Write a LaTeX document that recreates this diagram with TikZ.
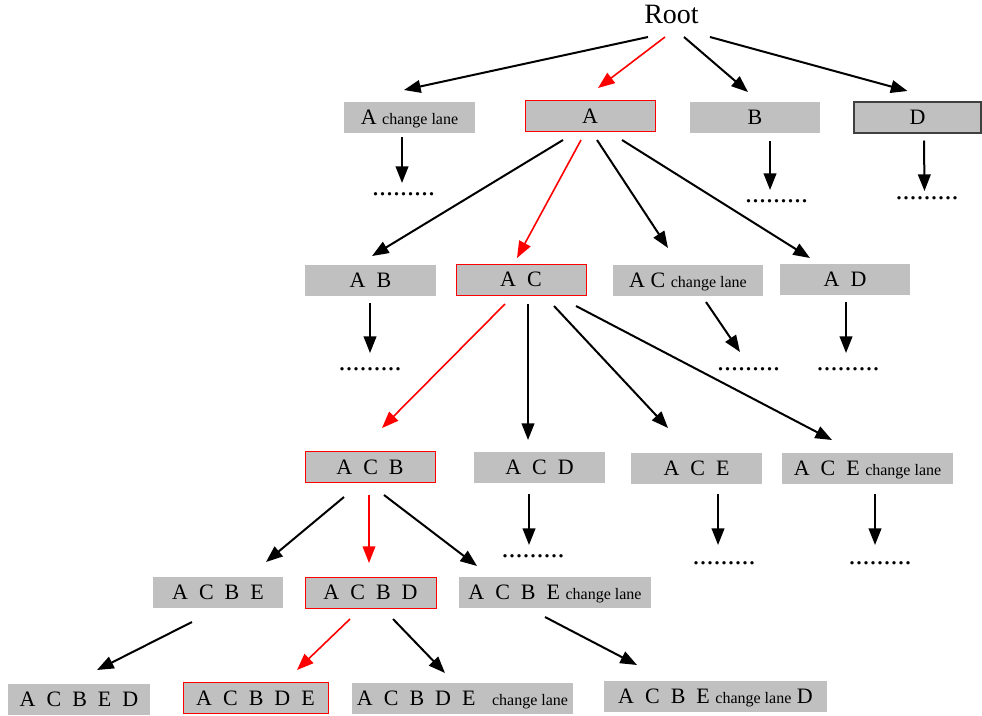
\documentclass[tikz,border=0pt]{standalone}
\usepackage{fontspec}
\setmainfont{Liberation Serif}
\usetikzlibrary{arrows.meta}
\definecolor{boxgray}{HTML}{C0C0C0}
\newcommand{\gp}{\hspace{0.5em}}
\newcommand{\cl}{{\fontsize{12}{12}\selectfont change lane}}
\begin{document}
\begin{tikzpicture}[x=0.75pt,y=-0.75pt,
  box/.style={fill=boxgray,inner sep=0pt,minimum height=23.25pt,minimum width=#1*0.75pt,text height=10.9pt,text depth=0pt,font=\fontsize{16.5}{18}\selectfont},
  hl/.style={draw=red,line width=0.75pt},
  dk/.style={draw=black!75,line width=1pt},
  arr/.style={-{Triangle[length=12.5pt,width=9.5pt]},line width=1.5pt},
  rarr/.style={arr,red,line width=1.2pt},
  dotn/.style={anchor=base,inner sep=0pt,font=\fontsize{21}{21}\selectfont}]
\useasboundingbox (0,0) rectangle (982,715);
% root
\node[inner sep=0pt,font=\fontsize{21}{21}\selectfont] (root) at (671.5,14) {Root};
% row 1
\node[box=131] (Achg) at (409.5,117) {A \cl};
\node[box=130,hl] (A) at (590,116) {A};
\node[box=130] (B) at (755,117.5) {B};
\node[box=127,dk] (D) at (917.5,117.5) {D};
\node[dotn] (d1) at (403.5,195) {.........};
\node[dotn] (d2) at (776.5,202) {.........};
\node[dotn] (d3) at (927,199) {.........};
% row 2
\node[box=131] (AB) at (370.5,280) {A\gp B};
\node[box=130,hl] (AC) at (521,279.5) {A\gp C};
\node[box=150] (ACchg) at (688,280) {A C \cl};
\node[box=130] (AD) at (845,279.5) {A\gp D};
\node[dotn] (d4) at (370,370) {.........};
\node[dotn] (d5) at (748.5,370) {.........};
\node[dotn] (d6) at (848,370) {.........};
% row 3
\node[box=130,hl] (ACB) at (370,467) {A\gp C\gp B};
\node[box=131] (ACD) at (539.5,467.5) {A\gp C\gp D};
\node[box=131] (ACE) at (696.5,468.5) {A\gp C\gp E};
\node[box=171] (ACEchg) at (867.5,468) {A\gp C\gp E \cl};
\node[dotn] (d7) at (533,557) {.........};
\node[dotn] (d8) at (724,564) {.........};
\node[dotn] (d9) at (880,564) {.........};
% row 4
\node[box=130] (ACBE) at (218,592.5) {A\gp C\gp B\gp E};
\node[box=131,hl] (ACBD) at (370.5,592.5) {A\gp C\gp B\gp D};
\node[box=192] (ACBEchg) at (555,592.5) {A\gp C\gp B\gp E \cl};
% row 5
\node[box=142] (ACBED) at (79,699) {A\gp C\gp B\gp E\gp D};
\node[box=145,hl] (ACBDE) at (255.5,698) {A\gp C\gp B\gp D\gp E};
\node[box=221] (ACBDEchg) at (462.5,698) {A\gp C\gp B\gp D\gp E\gp\ \cl};
\node[box=223] (ACBEchgD) at (715.5,696) {A\gp C\gp B\gp E \cl{} D};
% arrows root
\draw[arr] ([shift={(-23.5,23)}]root.center) -- ([shift={(-5.5,-27)}]Achg.center);
\draw[rarr] ([shift={(-6.5,23)}]root.center) -- ([shift={(8,-28)}]A.center);
\draw[arr] ([shift={(12.5,23)}]root.center) -- ([shift={(-7,-25.5)}]B.center);
\draw[arr] ([shift={(38.5,23)}]root.center) -- ([shift={(-10,-26.5)}]D.center);
% row1 down
\draw[arr] ([shift={(-7.5,20)}]Achg.center) -- ([shift={(-1.5,-12)}]d1.base);
\draw[arr] ([shift={(15,23.5)}]B.center) -- ([shift={(-6.5,-12)}]d2.base);
\draw[arr] ([shift={(6.5,23)}]D.center) -- ([shift={(-2.5,-8)}]d3.base);
\draw[arr] ([shift={(-27,24)}]A.center) -- ([shift={(1.5,-24)}]AB.center);
\draw[rarr] ([shift={(-9,24)}]A.center) -- ([shift={(-4,-21.5)}]AC.center);
\draw[arr] ([shift={(7,24)}]A.center) -- ([shift={(-20,-32)}]ACchg.center);
\draw[arr] ([shift={(32,24)}]A.center) -- ([shift={(-35,-21.5)}]AD.center);
% row2 down
\draw[arr] ([shift={(-0.5,23)}]AB.center) -- ([shift={(0,-17)}]d4.base);
\draw[arr] ([shift={(18,22)}]ACchg.center) -- ([shift={(-8.5,-18)}]d5.base);
\draw[arr] ([shift={(1,22.5)}]AD.center) -- ([shift={(-2,-17)}]d6.base);
\draw[rarr] ([shift={(-16,24.5)}]AC.center) -- ([shift={(12,-39)}]ACB.center);
\draw[arr] ([shift={(7,24.5)}]AC.center) -- ([shift={(-11.5,-27.5)}]ACD.center);
\draw[arr] ([shift={(33,26.5)}]AC.center) -- ([shift={(-28.5,-40.5)}]ACE.center);
\draw[arr] ([shift={(55,26.5)}]AC.center) -- ([shift={(-35.5,-28)}]ACEchg.center);
% row3 down
\draw[arr] ([shift={(-10.5,26.5)}]ACD.center) -- ([shift={(-4,-12)}]d7.base);
\draw[arr] ([shift={(21.5,25.5)}]ACE.center) -- ([shift={(-6,-19)}]d8.base);
\draw[arr] ([shift={(7.5,26)}]ACEchg.center) -- ([shift={(-5,-19)}]d9.base);
\draw[arr] ([shift={(-26,30)}]ACB.center) -- ([shift={(48,-30.5)}]ACBE.center);
\draw[rarr] ([shift={(-1,28)}]ACB.center) -- ([shift={(-1.5,-29.5)}]ACBD.center);
\draw[arr] ([shift={(14,28)}]ACB.center) -- ([shift={(-78,-26.5)}]ACBEchg.center);
% row4 down
\draw[arr] ([shift={(-26,29.5)}]ACBE.center) -- ([shift={(18,-29)}]ACBED.center);
\draw[rarr] ([shift={(-20.5,26.5)}]ACBD.center) -- ([shift={(41.5,-28)}]ACBDE.center);
\draw[arr] ([shift={(22.5,26.5)}]ACBD.center) -- ([shift={(-17.5,-25)}]ACBDEchg.center);
\draw[arr] ([shift={(-10,24.5)}]ACBEchg.center) -- ([shift={(-78.5,-31)}]ACBEchgD.center);
\end{tikzpicture}
\end{document}
